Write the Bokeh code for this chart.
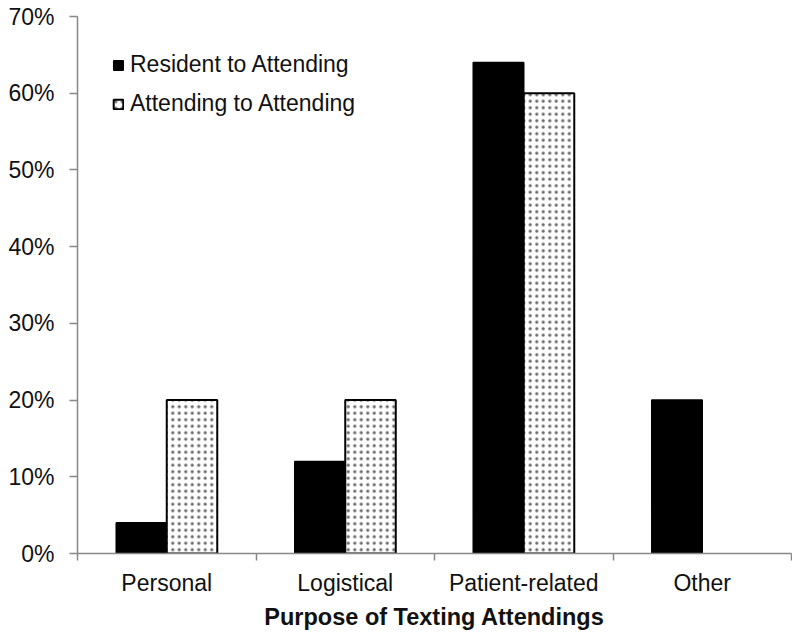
from bokeh.plotting import figure
from bokeh.models import (ColumnDataSource, FixedTicker, PrintfTickFormatter, Range1d,
                          Legend, LegendItem, CDSView, BooleanFilter)
from bokeh.transform import dodge
from bokeh.embed import file_html
from bokeh.resources import INLINE

categories = ["Personal", "Logistical", "Patient-related", "Other"]
resident_to_attending = [4, 12, 64, 20]
attending_to_attending = [20, 20, 60, 0]
y_ticks = [0, 10, 20, 30, 40, 50, 60, 70]

pos = [i + 0.5 for i in range(len(categories))]
src = ColumnDataSource(dict(x=pos, res=resident_to_attending, att=attending_to_attending))

FONT = "Liberation Sans"
TXT = "#111111"
AX = "#888888"

p = figure(width=792, height=632, output_backend="svg", toolbar_location=None,
           x_range=Range1d(0, len(categories)), y_range=Range1d(0, 70),
           min_border_left=77, min_border_right=1, min_border_top=16, min_border_bottom=70)
p.outline_line_color = None
p.xgrid.visible = False
p.ygrid.visible = False

bw = 0.283
r1 = p.vbar(x=dodge("x", -bw / 2, range=p.x_range), top="res", width=bw, source=src,
            fill_color="black", line_color="black", line_width=1.5)
view = CDSView(filter=BooleanFilter([v > 0 for v in attending_to_attending]))
r2 = p.vbar(x=dodge("x", bw / 2, range=p.x_range), top="att", width=bw, source=src, view=view,
            fill_color="white", line_color="black", line_width=2,
            hatch_pattern="dot", hatch_color="#6a6a6a", hatch_scale=6.5, hatch_weight=1)

# x axis
xa = p.xaxis[0]
xa.ticker = FixedTicker(ticks=pos, minor_ticks=[float(i) for i in range(len(categories) + 1)])
xa.major_label_overrides = {p_: c for p_, c in zip(pos, categories)}
xa.major_tick_out = 0
xa.major_tick_in = 0
xa.minor_tick_out = 7
xa.minor_tick_in = 0
xa.minor_tick_line_color = AX
xa.minor_tick_line_width = 1.5
xa.axis_line_color = AX
xa.axis_line_width = 1.5
xa.major_label_text_font = FONT
xa.major_label_text_font_size = "23px"
xa.major_label_text_color = TXT
xa.major_label_standoff = 9
xa.axis_label = "Purpose of Texting Attendings"
xa.axis_label_text_font = FONT
xa.axis_label_text_font_size = "23.5px"
xa.axis_label_text_font_style = "bold"
xa.axis_label_text_color = TXT
xa.axis_label_standoff = 5

# y axis
ya = p.yaxis[0]
ya.ticker = FixedTicker(ticks=y_ticks, minor_ticks=[])
ya.formatter = PrintfTickFormatter(format="%d%%")
ya.major_tick_out = 8
ya.major_tick_in = 0
ya.major_tick_line_color = AX
ya.major_tick_line_width = 1.5
ya.minor_tick_out = 0
ya.minor_tick_in = 0
ya.axis_line_color = AX
ya.axis_line_width = 1.5
ya.major_label_text_font = FONT
ya.major_label_text_font_size = "23px"
ya.major_label_text_color = TXT
ya.major_label_standoff = 15

legend = Legend(items=[LegendItem(label="Resident to Attending", renderers=[r1]),
                       LegendItem(label="Attending to Attending", renderers=[r2])],
                location=(35, 436), orientation="vertical")
legend.border_line_color = None
legend.background_fill_alpha = 0
legend.padding = 0
legend.margin = 0
legend.spacing = 12
legend.glyph_width = 12
legend.glyph_height = 12
legend.label_height = 26
legend.label_standoff = 6
legend.label_text_font = FONT
legend.label_text_font_size = "23px"
legend.label_text_color = TXT
p.add_layout(legend, "center")

open("out.html", "w").write(file_html(p, INLINE))
